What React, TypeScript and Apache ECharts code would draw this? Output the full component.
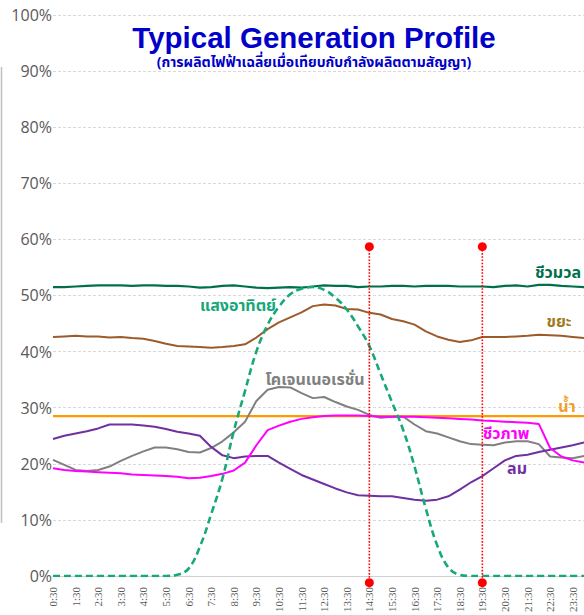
import React, { useEffect, useRef } from "react";
import * as echarts from "echarts";

const times = [
  "0:30", "1:00", "1:30", "2:00", "2:30", "3:00", "3:30", "4:00", "4:30", "5:00",
  "5:30", "6:00", "6:30", "7:00", "7:30", "8:00", "8:30", "9:00", "9:30", "10:00",
  "10:30", "11:00", "11:30", "12:00", "12:30", "13:00", "13:30", "14:00", "14:30", "15:00",
  "15:30", "16:00", "16:30", "17:00", "17:30", "18:00", "18:30", "19:00", "19:30", "20:00",
  "20:30", "21:00", "21:30", "22:00", "22:30", "23:00", "23:30", "24:00",
];

const biomass = [
  51.5, 51.5, 51.6, 51.7, 51.8, 51.8, 51.8, 51.7, 51.8, 51.8,
  51.7, 51.7, 51.6, 51.4, 51.5, 51.7, 51.8, 51.6, 51.4, 51.3,
  51.4, 51.5, 51.4, 51.6, 51.8, 51.7, 51.7, 51.5, 51.6, 51.6,
  51.7, 51.7, 51.6, 51.7, 51.7, 51.7, 51.6, 51.6, 51.6, 51.5,
  51.7, 51.8, 51.6, 51.9, 51.9, 51.7, 51.6, 51.5,
];

const waste = [
  42.6, 42.7, 42.8, 42.7, 42.7, 42.5, 42.6, 42.4, 42.3, 41.9,
  41.4, 41.0, 40.9, 40.8, 40.7, 40.8, 41.0, 41.3, 42.5, 44.0,
  45.2, 46.1, 47.0, 48.1, 48.4, 48.2, 47.6, 47.5, 46.9, 46.6,
  45.8, 45.4, 44.8, 43.6, 42.7, 42.1, 41.7, 42.0, 42.6, 42.6,
  42.6, 42.7, 42.8, 43.0, 42.9, 42.8, 42.6, 42.4,
];

const hydro = [
  28.5, 28.5, 28.5, 28.5, 28.5, 28.5, 28.5, 28.5, 28.5, 28.5,
  28.5, 28.5, 28.5, 28.5, 28.5, 28.5, 28.5, 28.5, 28.5, 28.5,
  28.5, 28.5, 28.5, 28.5, 28.5, 28.5, 28.5, 28.5, 28.5, 28.5,
  28.5, 28.5, 28.5, 28.5, 28.5, 28.5, 28.5, 28.5, 28.5, 28.5,
  28.5, 28.5, 28.5, 28.5, 28.5, 28.5, 28.5, 28.5,
];

const biogas = [
  19.2, 18.9, 18.7, 18.6, 18.5, 18.4, 18.3, 18.1, 18.0, 17.9,
  17.8, 17.7, 17.4, 17.5, 17.8, 18.2, 18.8, 20.2, 23.3, 26.0,
  26.8, 27.5, 28.0, 28.3, 28.5, 28.6, 28.6, 28.6, 28.5, 28.4,
  28.4, 28.4, 28.4, 28.3, 28.2, 28.1, 28.0, 27.9, 27.7, 27.6,
  27.5, 27.4, 27.3, 27.1, 22.8, 21.3, 20.6, 20.2,
];

const wind = [
  24.4, 25.0, 25.4, 25.8, 26.3, 27.0, 27.0, 27.0, 26.8, 26.6,
  26.2, 25.7, 25.4, 25.0, 23.0, 21.5, 21.0, 21.3, 21.4, 21.4,
  20.2, 19.1, 18.0, 17.2, 16.4, 15.6, 14.9, 14.4, 14.3, 14.2,
  14.2, 13.9, 13.6, 13.4, 13.6, 14.2, 15.4, 16.7, 17.8, 19.2,
  20.6, 21.4, 21.6, 22.1, 22.5, 22.9, 23.3, 23.8,
];

const solar = [
  0, 0, 0, 0, 0, 0, 0, 0, 0, 0,
  0, 0.2, 1.3, 5.2, 11.0, 17.4, 25.8, 33.0, 40.0, 44.8,
  48.0, 50.2, 51.2, 51.5, 51.0, 49.6, 47.5, 44.5, 41.0, 36.0,
  31.0, 26.0, 19.5, 12.0, 5.5, 1.5, 0.2, 0, 0, 0,
  0, 0, 0, 0, 0, 0, 0, 0,
];

const cogeneration = [
  20.7, 19.8, 18.9, 18.7, 18.9, 19.5, 20.5, 21.4, 22.2, 22.9,
  22.9, 22.6, 22.1, 22.0, 22.8, 24.0, 25.6, 27.5, 31.2, 33.2,
  33.7, 33.6, 32.6, 31.7, 31.9, 31.0, 30.2, 29.6, 28.7, 28.2,
  28.4, 28.4, 27.0, 25.8, 25.4, 24.7, 24.0, 23.5, 23.4, 23.3,
  23.8, 24.0, 24.0, 23.5, 21.3, 21.1, 21.0, 21.4,
];

const markerTimes = ["14:30", "19:30"];
const markerTop = 58.7;
const markerBottom = -1.2;

const titleText = "Typical Generation Profile";
const subtitleText = "(การผลิตไฟฟ้าเฉลี่ยเมื่อเทียบกับกำลังผลิตตามสัญญา)";

const seriesNames = {
  biomass: "ชีวมวล",
  waste: "ขยะ",
  hydro: "น้ำ",
  biogas: "ชีวภาพ",
  wind: "ลม",
  solar: "แสงอาทิตย์",
  cogeneration: "โคเจนเนอเรชั่น",
};

const THAI = "'Noto Sans Thai', 'Noto Sans', 'Noto Sans Thai UI', Tahoma, sans-serif";

export default function App() {
  const ref = useRef<HTMLDivElement>(null);

  useEffect(() => {
    if (!ref.current) return;
    document.body.style.margin = "0";
    document.body.style.overflow = "hidden";
    const chart = echarts.init(ref.current, undefined, { renderer: "svg" });

    const line = (name: string, data: number[], color: string, width = 2, extra: any = {}) => ({
      type: "line",
      name,
      data,
      symbol: "none",
      showSymbol: false,
      lineStyle: { color, width },
      itemStyle: { color },
      z: 3,
      ...extra,
    });

    const markerSeries = markerTimes.map((t) => ({
      type: "line",
      name: "marker-" + t,
      data: [
        [t, markerTop],
        [t, markerBottom],
      ],
      clip: false,
      symbol: "circle",
      symbolSize: 9,
      showSymbol: true,
      lineStyle: { color: "#FF0000", width: 1.6, type: "dotted" },
      itemStyle: { color: "#FF0000" },
      z: 6,
    }));

    const label = (text: string, x: number, y: number, color: string) => ({
      type: "text",
      x,
      y,
      z: 10,
      style: {
        text,
        fill: color,
        font: `bold 16px ${THAI}`,
        align: "center",
        verticalAlign: "middle",
      },
    });

    chart.setOption({
      animation: false,
      backgroundColor: "#ffffff",
      grid: { left: 53, right: 0, top: 15, bottom: 36, containLabel: false },
      xAxis: {
        type: "category",
        data: times,
        boundaryGap: false,
        axisLine: { show: true, lineStyle: { color: "#D0D0D0", width: 1 } },
        axisTick: { show: false },
        axisLabel: {
          interval: 1,
          rotate: 90,
          margin: 11,
          color: "#595959",
          fontFamily: "'Liberation Serif', 'Times New Roman', serif",
          fontSize: 11,
        },
        splitLine: { show: false },
      },
      yAxis: {
        type: "value",
        min: 0,
        max: 100,
        interval: 10,
        axisLine: { show: false },
        axisTick: { show: false },
        axisLabel: {
          formatter: "{value}%",
          color: "#595959",
          fontFamily: "'Open Sans', sans-serif",
          fontSize: 16,
          margin: 1,
        },
        splitLine: { show: true, lineStyle: { color: "#D9D9D9", type: [3, 2], width: 1 } },
      },
      series: [
        line(seriesNames.hydro, hydro, "#FF9A00", 2.2),
        line(seriesNames.cogeneration, cogeneration, "#808080", 2),
        line(seriesNames.wind, wind, "#7030A0", 2),
        line(seriesNames.biogas, biogas, "#FF00FF", 2),
        line(seriesNames.waste, waste, "#9C5B2A", 2),
        line(seriesNames.biomass, biomass, "#00704A", 2.2),
        line(seriesNames.solar, solar, "#17A87A", 2.6, {
          smooth: 0.4,
          lineStyle: { color: "#17A87A", width: 2.6, type: [7, 4] },
          z: 4,
        }),
        ...markerSeries,
      ],
      graphic: [
        {
          type: "line",
          shape: { x1: 1.5, y1: 67, x2: 1.5, y2: 523 },
          style: { stroke: "#BFBFBF", lineWidth: 1.5 },
        },
        {
          type: "text",
          x: 314,
          y: 37,
          z: 10,
          style: {
            text: titleText,
            fill: "#0000C8",
            font: "bold 29.5px 'Liberation Sans', Arial, sans-serif",
            align: "center",
            verticalAlign: "middle",
          },
        },
        {
          type: "text",
          x: 314,
          y: 62,
          z: 10,
          style: {
            text: subtitleText,
            fill: "#0000C8",
            font: `bold 14px ${THAI}`,
            align: "center",
            verticalAlign: "middle",
          },
        },
        label(seriesNames.biomass, 558, 273, "#00704A"),
        label(seriesNames.waste, 559, 322, "#9E7B1E"),
        label(seriesNames.hydro, 567, 407, "#F0A028"),
        label(seriesNames.biogas, 506, 434, "#FF00FF"),
        label(seriesNames.wind, 517, 469, "#7030A0"),
        label(seriesNames.solar, 238, 306, "#17A87A"),
        label(seriesNames.cogeneration, 315, 380, "#808080"),
      ],
    });

    return () => chart.dispose();
  }, []);

  return <div ref={ref} style={{ width: 584, height: 615 }} />;
}
